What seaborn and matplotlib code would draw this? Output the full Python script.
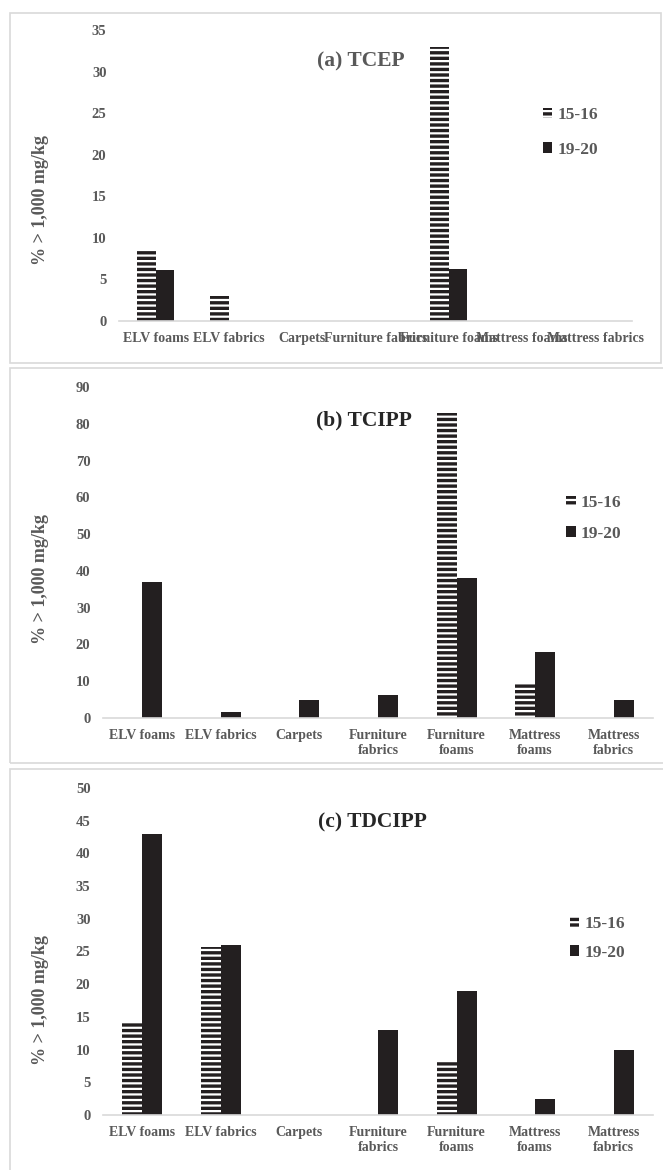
import numpy as np
import pandas as pd
import matplotlib
matplotlib.use("Agg")
import matplotlib.pyplot as plt
from matplotlib.patches import Patch, Rectangle
import seaborn as sns

categories_long = ['ELV foams', 'ELV fabrics', 'Carpets', 'Furniture fabrics',
                   'Furniture foams', 'Mattress foams', 'Mattress fabrics']
categories_wrap = ['ELV foams', 'ELV fabrics', 'Carpets', 'Furniture\nfabrics',
                   'Furniture\nfoams', 'Mattress\nfoams', 'Mattress\nfabrics']
periods = ['15-16', '19-20']

tcep_1516 = [8.7, 3.0, 0, 0, 33, 0, 0]
tcep_1920 = [6.1, 0, 0, 0, 6.3, 0, 0]
tcipp_1516 = [0, 0, 0, 0, 83, 9.5, 0]
tcipp_1920 = [37, 1.5, 5, 6.3, 38, 18, 5]
tdcipp_1516 = [14, 25.7, 0, 0, 8.2, 0, 0]
tdcipp_1920 = [43, 26, 0, 13, 19, 2.5, 10]

y_max = [35, 90, 50]
y_step = [5, 10, 5]
titles = ['(a) TCEP', '(b) TCIPP', '(c) TDCIPP']

BLACK = '#231f20'
GREY = '#595959'
LIGHT = '#d9d9d9'

sns.set_style('white')
plt.rcParams['font.family'] = ['Liberation Serif', 'DejaVu Serif']
plt.rcParams['font.weight'] = 'bold'
plt.rcParams['hatch.linewidth'] = 2.4


def make_df(cats, v1, v2):
    return pd.DataFrame({
        'category': cats * 2,
        'value': v1 + v2,
        'period': [periods[0]] * len(cats) + [periods[1]] * len(cats),
    })


panels = [
    (categories_long, tcep_1516, tcep_1920),
    (categories_wrap, tcipp_1516, tcipp_1920),
    (categories_wrap, tdcipp_1516, tdcipp_1920),
]

fig = plt.figure(figsize=(6.63, 11.7), dpi=100)

# panel frames (figure coords)
frames = [(10, 13, 651, 350), (10, 368, 660, 395), (10, 769, 660, 420)]
for x, y, w, h in frames:
    fig.add_artist(Rectangle((x / 663, 1 - (y + h) / 1170), w / 663, h / 1170,
                             transform=fig.transFigure, fill=False,
                             edgecolor=LIGHT, lw=1.2))

# axes rects in pixels: left, right, y0 pixel, ymax pixel
ax_px = [(119, 632, 321, 30), (103, 653, 718, 387), (103, 653, 1115, 788)]
title_pos = [(0.472, 0.893), (0.475, 0.90), (0.49, 0.896)]
title_col = [GREY, '#262626', '#262626']
leg_pos = [(0.826, 0.648, 1.05), (0.842, 0.603, 0.82), (0.849, 0.54, 0.72)]
ylab_pos = [(-0.136, 0.415), (-0.098, 0.42), (-0.098, 0.35)]

for i, (cats, v1, v2) in enumerate(panels):
    l, r, y0, y1 = ax_px[i]
    ax = fig.add_axes([l / 663, 1 - y0 / 1170, (r - l) / 663, (y0 - y1) / 1170])
    df = make_df(cats, v1, v2)
    sns.barplot(data=df, x='category', y='value', hue='period',
                palette=['white', BLACK], width=0.51, saturation=1,
                legend=False, ax=ax)
    for p in ax.containers[0]:
        p.set_hatch('---')
        p.set_edgecolor(BLACK)
        p.set_linewidth(0)
    for p in ax.containers[1]:
        p.set_edgecolor(BLACK)
        p.set_linewidth(0)

    ax.set_ylim(0, y_max[i])
    ax.set_yticks(np.arange(0, y_max[i] + 1, y_step[i]))
    ax.set_xlim(-0.5, 6.5)
    sns.despine(ax=ax, left=True)
    ax.spines['bottom'].set_color(LIGHT)
    ax.spines['bottom'].set_linewidth(1.2)
    ax.tick_params(axis='both', length=0, colors=GREY)
    ax.tick_params(axis='x', labelsize=10, pad=8)
    ax.tick_params(axis='y', labelsize=10.5, pad=9)
    for t in ax.get_xticklabels():
        t.set_multialignment('center')
    ax.set_xlabel('')
    ax.set_ylabel('% > 1,000 mg/kg', fontsize=13, color=GREY, fontweight='bold')
    ax.yaxis.set_label_coords(*ylab_pos[i])

    ax.text(title_pos[i][0], title_pos[i][1], titles[i], transform=ax.transAxes,
            ha='center', va='center', fontsize=15.5, color=title_col[i],
            fontweight='bold')

    handles = [Patch(facecolor='white', edgecolor=BLACK, hatch='---', lw=0),
               Patch(facecolor=BLACK, edgecolor=BLACK, lw=0)]
    ax.legend(handles, periods, loc='center left',
              bbox_to_anchor=(leg_pos[i][0], leg_pos[i][1]), frameon=False,
              borderpad=0, borderaxespad=0, handlelength=0.55,
              handleheight=0.55, handletextpad=0.3,
              labelspacing=leg_pos[i][2],
              prop={'size': 12.5, 'weight': 'bold'}, labelcolor=GREY)

fig.savefig('out.png', dpi=100)
